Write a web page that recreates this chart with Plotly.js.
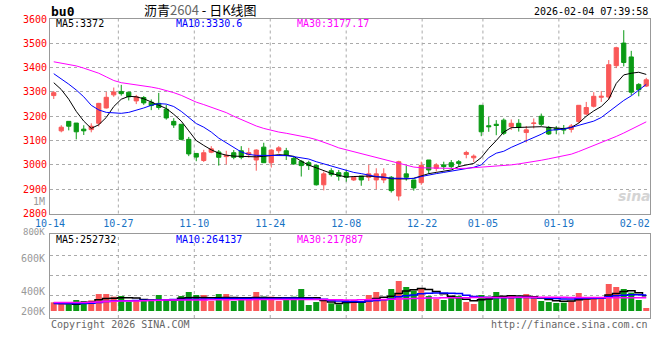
<!DOCTYPE html>
<html><head><meta charset="utf-8">
<script src="https://cdn.plot.ly/plotly-3.0.1.min.js"></script>
<style>html,body{margin:0;padding:0;background:#fff}#chart{width:660px;height:360px}</style>
</head><body><div id="chart"></div>
<script>
// ---- data ----
const tickLabels = ['10-14','10-27','11-10','11-24','12-08','12-22','01-05','01-19','02-02'];
const tickIndex  = [0, 9, 19, 29, 39, 49, 57, 67, 77];
const gridIndex  = [9, 19, 29, 39, 49, 57, 67];

const openP  = [3285,3140,3179,3172,3147,3145,3171,3234,3288,3302,3299,3263,3277,3258,3253,3229,3179,3167,3105,3047,
                3018,3052,3053,3034,3050,3058,3042,3020,3073,3009,3058,3058,3027,3015,3009,2998,2918,2976,2968,2968,
                2938,2954,2949,2938,2938,2949,2872,2963,2938,2927,3020,2986,3000,3009,3013,3043,3029,3245,3161,3167,
                3184,3157,3171,3133,3170,3200,3154,3150,3150,3146,3178,3209,3241,3278,3279,3408,3501,3444,3331,3324];
const highP  = [3304,3163,3180,3172,3163,3171,3255,3300,3318,3329,3300,3288,3283,3269,3296,3247,3192,3167,3115,3048,
                3062,3077,3061,3058,3061,3077,3070,3064,3091,3064,3077,3070,3034,3020,3017,3001,2973,2986,2979,2979,
                2954,2954,3000,2986,2986,2954,3017,2997,2938,3013,3020,3007,3013,3020,3020,3058,3043,3246,3197,3184,
                3191,3187,3188,3160,3191,3211,3160,3160,3164,3168,3246,3259,3299,3304,3431,3486,3554,3469,3336,3358];
const lowP   = [3271,3134,3142,3105,3123,3134,3158,3232,3280,3285,3265,3250,3247,3225,3227,3186,3152,3101,3036,3015,
                3012,3048,2997,3002,3023,3023,3030,2976,3009,2989,3047,3020,3000,2952,2979,2915,2895,2952,2935,2931,
                2934,2914,2934,2900,2925,2886,2853,2935,2894,2918,2963,2973,2979,2986,2993,3027,3011,3118,3136,3122,
                3123,3144,3137,3092,3150,3160,3123,3126,3126,3133,3171,3205,3236,3259,3268,3398,3405,3286,3282,3320];
const closeP = [3297,3155,3159,3136,3140,3159,3253,3278,3300,3293,3280,3280,3255,3244,3236,3193,3164,3105,3045,3032,
                3050,3066,3031,3039,3031,3031,3050,3061,3009,3061,3070,3039,3004,2997,2997,2918,2963,2960,2953,2949,
                2949,2938,2963,2963,2963,2894,3013,2949,2905,2998,2979,3000,2993,2993,3006,3051,3036,3136,3157,3162,
                3130,3171,3154,3144,3172,3167,3127,3144,3143,3160,3245,3236,3282,3282,3412,3482,3421,3299,3309,3350];

const ma5  = [3338,3310,3270,3220,3180,3150,3165,3195,3240,3270,3282,3280,3272,3258,3245,3232,3208,3180,3140,3100,
              3080,3062,3048,3040,3036,3034,3032,3033,3035,3038,3042,3040,3035,3015,2999,2988,2975,2965,2957,2950,
              2952,2953,2954,2951,2949,2943,2942,2942,2945,2955,2964,2969,2973,2979,2993,3000,3006,3030,3068,3100,
              3135,3153,3154,3154,3154,3157,3154,3150,3149,3154,3172,3200,3222,3240,3270,3335,3370,3377,3381,3372];
const ma10 = [3375,3355,3332,3308,3280,3245,3226,3216,3213,3212,3216,3224,3234,3245,3252,3250,3240,3220,3195,3170,
              3155,3135,3110,3090,3073,3053,3043,3039,3039,3039,3040,3038,3034,3030,3024,3013,3004,2995,2988,2979,
              2969,2964,2957,2952,2949,2945,2945,2944,2944,2952,2959,2964,2969,2974,2981,2985,2990,3000,3030,3048,
              3056,3072,3085,3098,3112,3126,3142,3145,3147,3154,3162,3170,3180,3195,3218,3243,3265,3284,3307,3331];
const ma30 = [3424,3419,3414,3407,3398,3388,3377,3362,3347,3338,3334,3329,3325,3320,3314,3307,3297,3286,3272,3258,
              3248,3238,3228,3215,3200,3187,3172,3160,3150,3141,3135,3130,3125,3118,3112,3104,3094,3082,3070,3062,
              3055,3047,3038,3030,3021,3013,3005,2997,2991,2988,2987,2986,2986,2985,2985,2986,2988,2990,2993,2996,
              2998,3000,3004,3008,3013,3019,3025,3031,3037,3044,3055,3067,3078,3090,3103,3117,3131,3146,3161,3177];

const volume = [143,116,110,182,165,176,280,280,237,248,154,165,198,165,264,165,165,248,314,264,
                264,165,280,280,165,182,198,314,237,237,165,198,237,363, 99,148,182,127,110,182,
                182,143,264,314,182,363,495,396,336,374,248,198,182,215,248,148,116,264,237,314,
                248,248,215,280,215,165,148,132,137,165,297,215,215,198,446,396,363,303,182, 50].map(v => v * 1000);
const vma5  = [130,125,118,112,140,145,185,205,212,220,220,215,190,180,178,178,180,210,220,222,
               222,218,220,222,222,220,220,222,222,220,220,218,218,220,220,218,175,150,125,140,
               145,143,175,205,225,245,290,330,350,372,355,320,285,245,220,195,170,185,200,230,
               245,250,248,245,235,215,190,170,160,165,185,200,205,210,265,290,320,335,300,252.7].map(v => v * 1000);
const vma10 = [125,125,125,124,124,126,140,155,165,168,170,172,176,178,180,185,188,190,192,195,
               198,200,202,205,205,205,205,205,205,205,208,210,210,208,205,200,195,175,165,158,
               155,154,165,175,185,200,235,250,262,285,292,295,295,292,288,260,240,225,222,220,
               218,220,222,222,220,218,212,205,200,200,205,210,212,212,235,250,260,268,270,264.1].map(v => v * 1000);
const vma30 = [140,140,141,141,142,143,150,158,162,165,166,167,170,175,178,180,181,182,182,183,
               183,184,185,186,186,187,187,188,188,188,189,189,190,190,190,189,188,185,184,183,
               183,184,186,188,190,193,198,203,207,211,214,216,218,219,220,220,221,222,222,223,
               224,225,226,226,227,227,227,226,225,224,223,222,221,221,220,220,219,219,218,217.9].map(v => v * 1000);

const legendPrice = ['MA5:3372', 'MA10:3330.6', 'MA30:3177.17'];
const legendVol   = ['MA5:252732', 'MA10:264137', 'MA30:217887'];
const volLabels   = ['1M', '800K', '600K', '400K', '200K'];
const priceTicks  = [2800, 2900, 3000, 3100, 3200, 3300, 3400, 3500, 3600];

// ---- styling ----
const RED = '#fa5858', GREEN = '#0a9a14';
const MONO = 'DejaVu Sans Mono, Liberation Mono, monospace';
const W = 660, H = 360;
const px = v => v / W, py = v => 1 - v / H;
const idx = openP.map((_, i) => i);
const N = idx.length;
const gridPos = k => k * N / (N - 1) - 0.5;   // sina's date grid spacing

const traces = [
  {type: 'candlestick', x: idx, open: openP, high: highP, low: lowP, close: closeP,
   xaxis: 'x', yaxis: 'y', hoverinfo: 'skip', whiskerwidth: 0,
   increasing: {line: {color: RED, width: 1}, fillcolor: RED},
   decreasing: {line: {color: GREEN, width: 1}, fillcolor: GREEN}},
  {type: 'scatter', mode: 'lines', x: idx, y: ma5,  xaxis: 'x', yaxis: 'y', line: {color: '#000000', width: 1}, hoverinfo: 'skip'},
  {type: 'scatter', mode: 'lines', x: idx, y: ma10, xaxis: 'x', yaxis: 'y', line: {color: '#0000ff', width: 1}, hoverinfo: 'skip'},
  {type: 'scatter', mode: 'lines', x: idx, y: ma30, xaxis: 'x', yaxis: 'y', line: {color: '#ff00ff', width: 1}, hoverinfo: 'skip'},
  {type: 'bar', x: idx, y: volume, xaxis: 'x2', yaxis: 'y2', width: 0.8, hoverinfo: 'skip',
   marker: {color: idx.map(i => closeP[i] >= openP[i] ? RED : GREEN), line: {width: 0}}},
  {type: 'scatter', mode: 'lines', x: idx, y: vma5,  xaxis: 'x2', yaxis: 'y2', line: {color: '#000000', width: 1.5, shape: 'hvh'}, hoverinfo: 'skip'},
  {type: 'scatter', mode: 'lines', x: idx, y: vma10, xaxis: 'x2', yaxis: 'y2', line: {color: '#0000ff', width: 1.5, shape: 'hvh'}, hoverinfo: 'skip'},
  {type: 'scatter', mode: 'lines', x: idx, y: vma30, xaxis: 'x2', yaxis: 'y2', line: {color: '#ff00ff', width: 1.5, shape: 'hvh'}, hoverinfo: 'skip'}
];

const xDom = [px(50), px(650)];
const frame = {showline: true, mirror: true, linecolor: '#999', linewidth: 1, zeroline: false};

const shapes = [];
gridIndex.forEach(k => {
  ['y domain', 'y2 domain'].forEach((yr, j) => {
    shapes.push({type: 'line', xref: j ? 'x2' : 'x', yref: yr, x0: gridPos(k), x1: gridPos(k), y0: 0, y1: 1,
                 line: {color: '#aaa', width: 1, dash: 'dot'}, layer: 'below'});
  });
});

const ann = [];
const txt = (text, x, y, color, size, xanchor, extra) => ann.push(Object.assign({
  text, x: px(x), y: py(y), xref: 'paper', yref: 'paper', showarrow: false,
  xanchor: xanchor || 'left', yanchor: 'middle', font: {family: MONO, size: size || 10, color: color}}, extra || {}));

txt('<b>bu0</b>', 49, 11, '#000', 13);
ann.push({text: '沥青<span style="color:#666">2604</span> - 日K线图', x: px(200), y: py(9), xref: 'paper', yref: 'paper',
          showarrow: false, xanchor: 'center', yanchor: 'middle',
          font: {family: 'Noto Sans CJK SC, sans-serif', size: 13, color: '#000'}});
txt('2026-02-04 07:39:58', 650, 12, '#000', 10, 'right');
const legX = [54, 174, 295], legC = ['#000000', '#0000ff', '#ff00ff'];
legendPrice.forEach((t, i) => txt(t, legX[i], 24, legC[i], 10));
legendVol.forEach((t, i) => txt(t, legX[i], 239, legC[i], 10));
const volLabY = [201, 232, 258, 291, 311];
volLabels.forEach((t, i) => txt(t, 47, volLabY[i], '#999', i === 1 ? 9 : 10, 'right'));
txt('Copyright 2026 SINA.COM', 49, 324, '#666', 10);
txt('http://finance.sina.com.cn', 650, 324, '#666', 10, 'right');
ann.push({text: '<i><b>sina</b></i>', x: px(634), y: py(196), xref: 'paper', yref: 'paper', showarrow: false,
          xanchor: 'center', yanchor: 'middle', font: {family: 'DejaVu Sans, sans-serif', size: 14, color: '#d4d4d4'}});

const layout = {
  width: W, height: H, margin: {l: 0, r: 0, t: 0, b: 0},
  paper_bgcolor: '#fff', plot_bgcolor: '#fff', showlegend: false, boxgap: 0.2,
  xaxis: Object.assign({domain: xDom, anchor: 'y', range: [-0.5, N - 0.5], rangeslider: {visible: false},
    tickmode: 'array', tickvals: tickIndex.map(gridPos), ticktext: tickLabels, ticks: '', showgrid: false,
    tickfont: {family: MONO, size: 10, color: '#1672c4'}}, frame),
  yaxis: Object.assign({domain: [1 - 213.5 / H, 1 - 19 / H], anchor: 'x', range: [2800, 3600],
    tickmode: 'array', tickvals: priceTicks, ticktext: priceTicks.map(String), ticks: '',
    showgrid: true, gridcolor: '#aaa', griddash: 'dot', gridwidth: 1,
    tickfont: {family: MONO, size: 10, color: '#ff0000'}}, frame),
  xaxis2: Object.assign({domain: xDom, anchor: 'y2', range: [-0.5, N - 0.5], showticklabels: false, ticks: '', showgrid: false}, frame),
  yaxis2: Object.assign({domain: [1 - 318 / H, 1 - 234 / H], anchor: 'x2', range: [-115500, 1270500],
    tickmode: 'array', tickvals: [264000, 594000, 924000], showticklabels: false, ticks: '',
    showgrid: true, gridcolor: '#aaa', griddash: 'dot', gridwidth: 1}, frame),
  shapes, annotations: ann
};

Plotly.newPlot('chart', traces, layout, {staticPlot: true, displayModeBar: false});
</script></body></html>
